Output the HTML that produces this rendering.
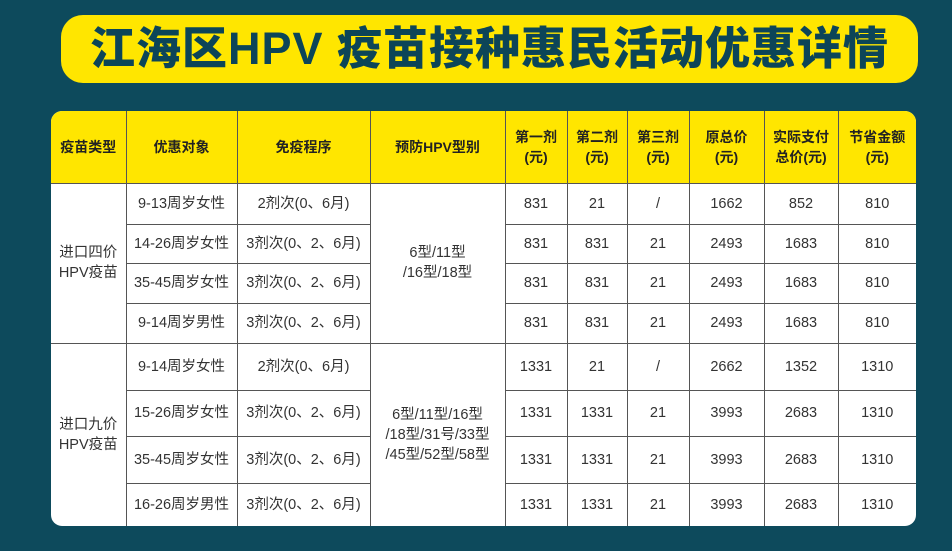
<!DOCTYPE html>
<html><head><meta charset="utf-8">
<style>
html,body{margin:0;padding:0}
body{width:952px;height:551px;background:#0d4a5c;position:relative;overflow:hidden;font-family:"Liberation Sans","Noto Sans CJK SC",sans-serif}
#title{position:absolute;left:61px;top:15px;width:857px;height:68px;background:#ffe600;border-radius:22px;text-align:center;line-height:68px;font-size:45px;font-weight:900;color:#0c4558;letter-spacing:1px;white-space:nowrap}
#wrap{position:absolute;left:51px;top:111px;width:865px;height:415px;border-radius:11px;overflow:hidden;background:#fff}
table{border-collapse:collapse;table-layout:fixed;width:865px;height:415px}
td,th{border:1.5px solid #555;text-align:center;padding:0;font-size:14.5px;color:#333;line-height:20px}
th{background:#ffe600;font-weight:bold;color:#222;font-size:14px}
tr:first-child th{border-top:none}
tr td:first-child,tr th:first-child{border-left:none}
tr td:last-child,tr th:last-child{border-right:none}
tr:last-child td{border-bottom:none}
</style></head><body>
<div id="title">江海区HPV 疫苗接种惠民活动优惠详情</div>
<div id="wrap">
<table>
<colgroup><col style="width:75px"><col style="width:111px"><col style="width:133px"><col style="width:135px"><col style="width:62px"><col style="width:60px"><col style="width:62px"><col style="width:75px"><col style="width:74px"><col style="width:78px"></colgroup>
<tr style="height:72px">
<th>疫苗类型</th>
<th>优惠对象</th>
<th>免疫程序</th>
<th>预防HPV型别</th>
<th>第一剂<br>(元)</th>
<th>第二剂<br>(元)</th>
<th>第三剂<br>(元)</th>
<th>原总价<br>(元)</th>
<th>实际支付<br>总价(元)</th>
<th>节省金额<br>(元)</th>
</tr>
<tr style="height:41px">
<td rowspan="4">进口四价<br>HPV疫苗</td>
<td>9-13周岁女性</td><td>2剂次(0、6月)</td>
<td rowspan="4">6型/11型<br>/16型/18型</td>
<td>831</td><td>21</td><td>/</td><td>1662</td><td>852</td><td>810</td></tr>
<tr style="height:39px">
<td>14-26周岁女性</td><td>3剂次(0、2、6月)</td>
<td>831</td><td>831</td><td>21</td><td>2493</td><td>1683</td><td>810</td></tr>
<tr style="height:40px">
<td>35-45周岁女性</td><td>3剂次(0、2、6月)</td>
<td>831</td><td>831</td><td>21</td><td>2493</td><td>1683</td><td>810</td></tr>
<tr style="height:40px">
<td>9-14周岁男性</td><td>3剂次(0、2、6月)</td>
<td>831</td><td>831</td><td>21</td><td>2493</td><td>1683</td><td>810</td></tr>
<tr style="height:47px">
<td rowspan="4">进口九价<br>HPV疫苗</td>
<td>9-14周岁女性</td><td>2剂次(0、6月)</td>
<td rowspan="4">6型/11型/16型<br>/18型/31号/33型<br>/45型/52型/58型</td>
<td>1331</td><td>21</td><td>/</td><td>2662</td><td>1352</td><td>1310</td></tr>
<tr style="height:46px">
<td>15-26周岁女性</td><td>3剂次(0、2、6月)</td>
<td>1331</td><td>1331</td><td>21</td><td>3993</td><td>2683</td><td>1310</td></tr>
<tr style="height:47px">
<td>35-45周岁女性</td><td>3剂次(0、2、6月)</td>
<td>1331</td><td>1331</td><td>21</td><td>3993</td><td>2683</td><td>1310</td></tr>
<tr style="height:43px">
<td>16-26周岁男性</td><td>3剂次(0、2、6月)</td>
<td>1331</td><td>1331</td><td>21</td><td>3993</td><td>2683</td><td>1310</td></tr>
</table>
</div>
</body></html>
